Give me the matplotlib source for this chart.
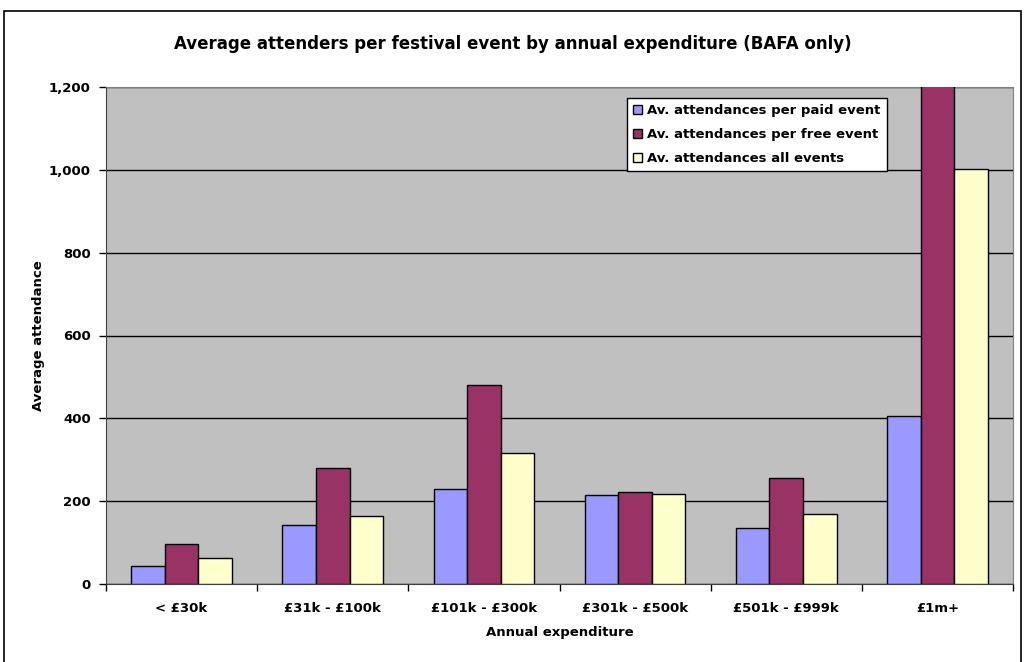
import numpy as np
import matplotlib.pyplot as plt
from matplotlib.patches import Rectangle

# %% data
categories = ['< £30k', '£31k - £100k', '£101k - £300k', '£301k - £500k', '£501k - £999k', '£1m+']
paid = [43, 142, 229, 215, 135, 405]
free = [97, 280, 481, 222, 256, 1260]
all_events = [63, 164, 316, 217, 169, 1003]
series_names = ['Av. attendances per paid event', 'Av. attendances per free event', 'Av. attendances all events']
colors = ['#9999FF', '#993366', '#FFFFCC']

# %% plot
plt.rcParams['font.family'] = ['DejaVu Sans']
plt.rcParams['font.weight'] = 'bold'
plt.rcParams['axes.labelweight'] = 'bold'

fig = plt.figure(figsize=(10.25, 6.62), dpi=100)
ax = fig.add_axes([106/1025, 1-584/662, (1013-106)/1025, (584-87)/662])
ax.set_facecolor('#C0C0C0')

x = np.arange(len(categories))
w = 0.222
for i, (vals, name, c) in enumerate(zip([paid, free, all_events], series_names, colors)):
    ax.bar(x + (i-1)*w, vals, w, color=c, edgecolor='black', linewidth=1, label=name, zorder=3)

ax.set_ylim(0, 1200)
ax.set_xlim(-0.5, len(categories)-0.5)
ax.set_yticks(range(0, 1201, 200))
ax.set_yticklabels([f'{v:,}' for v in range(0, 1201, 200)])
ax.yaxis.grid(True, color='black', linewidth=1, zorder=1)
ax.set_axisbelow(True)

ax.set_xticks(x)
ax.set_xticklabels(categories)
ax.set_xticks(np.arange(-0.5, len(categories), 1), minor=True)
ax.tick_params(axis='x', which='major', length=0, pad=13, labelsize=9.5)
ax.tick_params(axis='x', which='minor', length=5, width=1, direction='out')
ax.tick_params(axis='y', length=5, width=1, direction='out', labelsize=9.5, pad=6)

for s in ['top', 'right']:
    ax.spines[s].set_color('#808080')
for s in ['left', 'bottom']:
    ax.spines[s].set_color('#404040')

ax.set_ylabel('Average attendance', fontsize=9.5, labelpad=3)
ax.set_xlabel('Annual expenditure', fontsize=9.5, labelpad=8)
fig.text(0.5, 1-44/662, 'Average attenders per festival event by annual expenditure (BAFA only)',
         ha='center', va='center', fontsize=12, fontweight='bold')

leg = ax.legend(loc='upper left', bbox_to_anchor=((627-106)/907, 1-(98-87)/497),
                fontsize=9.5, frameon=True, fancybox=False, edgecolor='black',
                handlelength=0.7, handleheight=0.7, handletextpad=0.4,
                borderpad=0.45, labelspacing=0.85, framealpha=1, borderaxespad=0)
leg.get_frame().set_linewidth(1)

# outer chart border
fig.patches.append(Rectangle((4/1025, -0.05), (1021-4)/1025, 1.05-11/662,
                             transform=fig.transFigure, fill=False, edgecolor='black', linewidth=1.2))

plt.savefig('out.png', dpi=100)
